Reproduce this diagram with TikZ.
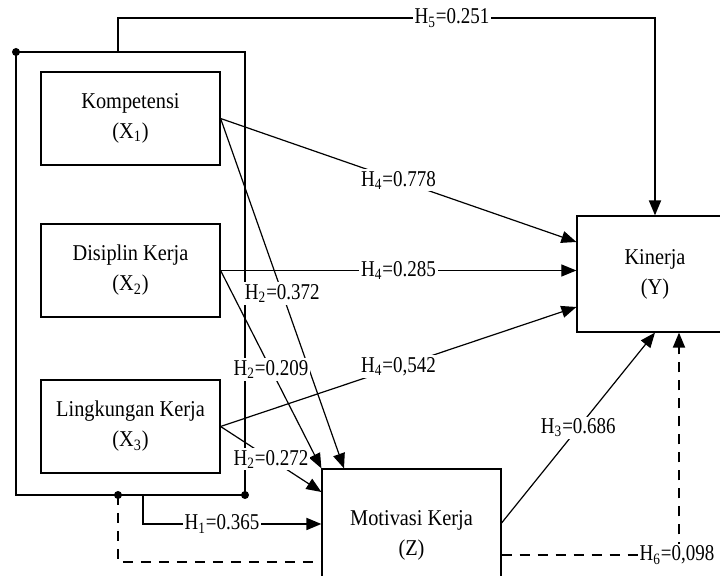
\documentclass[tikz,border=0pt]{standalone}
\usepackage{fontspec}
\setmainfont{Liberation Serif}[FakeStretch=0.9]
\newfontfamily\labelfont{Liberation Serif}[FakeStretch=0.84]
\usetikzlibrary{arrows.meta,calc}
\newcommand{\konstruk}[6]{%
  \node[draw,line width=0.6pt,minimum width=#3,minimum height=#4,
        align=center,font=\fontsize{11.3}{15}\selectfont]
       (#1) at #2 {#5\\(#6)};}

\begin{document}
\begin{tikzpicture}[x=0.5pt,y=-0.5pt,
  lbl/.style={fill=white,inner sep=1pt,font=\labelfont\fontsize{11.3}{13}\selectfont},
  tip/.style={-{Triangle[length=7.5pt,width=6pt]}},
  garis/.style={line width=0.6pt},
  tebal/.style={line width=0.9pt},
  putus/.style={line width=0.9pt,dash pattern=on 5pt off 4pt}]
  \useasboundingbox (0,0) rectangle (720,576);

  % variabel
  \konstruk{komp}{(130.5,118.5)}{89.5pt}{46.5pt}{Kompetensi}{X\textsubscript{1}}
  \konstruk{disip}{(130.5,270.5)}{89.5pt}{46.5pt}{Disiplin Kerja}{X\textsubscript{2}}
  \konstruk{lingk}{(130.5,426.5)}{89.5pt}{46.5pt}{Lingkungan Kerja}{X\textsubscript{3}}
  \konstruk{kin}{(655,274)}{78pt}{58pt}{Kinerja}{Y}
  \konstruk{mot}{(411.5,535)}{89.5pt}{66pt}{Motivasi Kerja}{Z}

  % kotak gabungan X1, X2, X3
  \coordinate (ka) at (16,52);
  \coordinate (kb) at (245,52);
  \coordinate (kc) at (245,495);
  \coordinate (kd) at (16,495);
  \coordinate (cab5) at (118,52);
  \coordinate (cab0) at (118,495);
  \coordinate (cab1) at (143,495);
  \draw[tebal] (ka) -- (kb) -- (kc) -- (kd) -- cycle;
  \foreach \t in {ka,kc,cab0} \fill (\t) circle[radius=2pt];

  % pengaruh simultan
  \draw[tebal,tip] (cab5) -- ++(0,-34) -| (kin.north);
  \draw[tebal,tip] (cab1) |- (mot.west |- 0,524);
  \draw[putus] (cab0) |- (mot.west |- 0,562);
  \draw[putus,tip] (mot.east |- 0,555) -| (679,0 |- kin.south);

  % pengaruh parsial
  \draw[garis,tip] (komp.east) -- node[lbl]{H\textsubscript{4}=0.778} (kin.west |- 0,242);
  \draw[garis,tip] (komp.east) -- node[lbl]{H\textsubscript{2}=0.372} (344,0 |- mot.north);
  \draw[garis,tip] (disip.east) -- node[lbl]{H\textsubscript{4}=0.285} (disip.east -| kin.west);
  \draw[garis,tip] (disip.east) -- node[lbl]{H\textsubscript{2}=0.209} (mot.north west);
  \draw[garis,tip] (lingk.east) -- node[lbl]{H\textsubscript{4}=0,542} (kin.west |- 0,307);
  \draw[garis,tip] (lingk.east) -- node[lbl]{H\textsubscript{2}=0.272} (mot.west |- 0,492);
  \draw[garis,tip] (mot.east |- 0,523) -- node[lbl]{H\textsubscript{3}=0.686} (kin.south);

  \node[lbl] (lh5) at (452,18) {H\textsubscript{5}=0.251};
  \node[lbl] (lh1) at (222,524) {H\textsubscript{1}=0.365};
  \node[lbl] (lh6) at (677,555) {H\textsubscript{6}=0,098};
\end{tikzpicture}
\end{document}
